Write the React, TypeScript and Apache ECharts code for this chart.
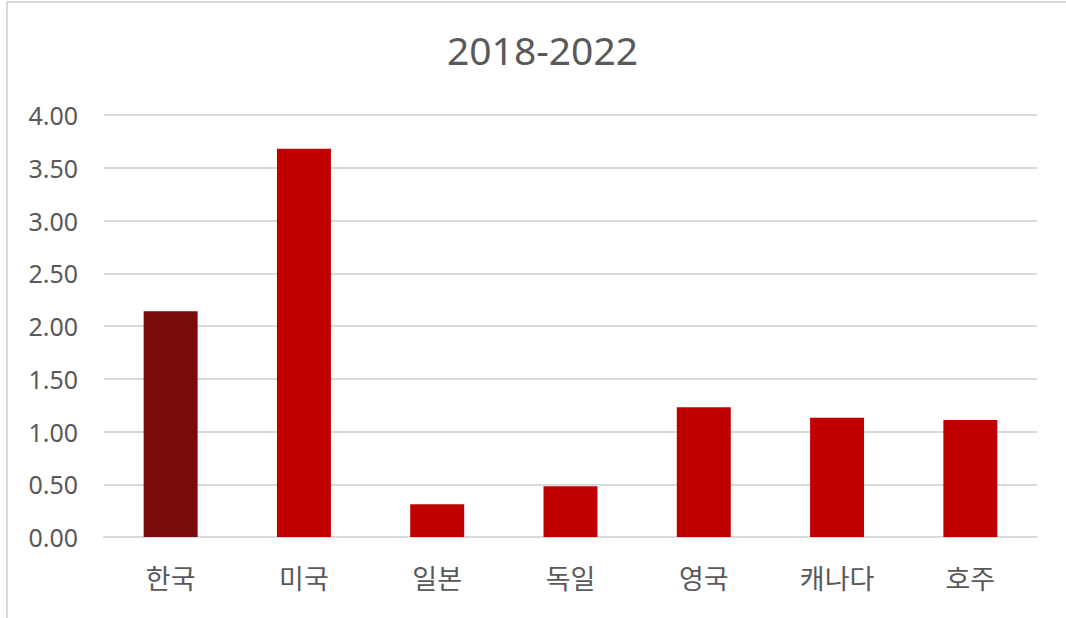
import React, { useEffect, useRef } from "react";
import * as echarts from "echarts";

const titleText = "2018-2022";
const categories = ["한국", "미국", "일본", "독일", "영국", "캐나다", "호주"];
const values = [2.14, 3.68, 0.31, 0.48, 1.23, 1.13, 1.11];
const highlightIndex = 0;
const highlightColor = "#7B0C0E";
const baseColor = "#C00000";

export default function App() {
  const ref = useRef<HTMLDivElement>(null);
  useEffect(() => {
    if (!ref.current) return;
    const chart = echarts.init(ref.current, undefined, { renderer: "svg" });
    const font = "'Noto Sans', 'Noto Sans CJK KR', sans-serif";
    chart.setOption({
      animation: false,
      backgroundColor: "#ffffff",
      textStyle: { fontFamily: font },
      title: {
        text: titleText,
        left: 442,
        top: 21,
        textStyle: {
          fontFamily: font,
          fontSize: 39,
          fontWeight: "normal",
          color: "#595959",
          lineHeight: 46,
        },
      },
      graphic: [
        {
          type: "rect",
          shape: { x: 7, y: 2, width: 1100, height: 700 },
          style: { fill: "none", stroke: "#d9d9d9", lineWidth: 2 },
          silent: true,
        },
      ],
      grid: { left: 104, right: 29, top: 115, bottom: 81 },
      xAxis: {
        type: "category",
        data: categories,
        axisLine: { show: true, lineStyle: { color: "#d9d9d9", width: 2 } },
        axisTick: { show: false },
        axisLabel: {
          color: "#595959",
          fontSize: 27,
          margin: 27,
          fontFamily: "'Noto Sans CJK KR', sans-serif",
        },
      },
      yAxis: {
        type: "value",
        min: 0,
        max: 4,
        interval: 0.5,
        axisLine: { show: false },
        axisTick: { show: false },
        splitLine: { lineStyle: { color: "#d9d9d9", width: 2 } },
        axisLabel: {
          color: "#595959",
          fontSize: 25,
          margin: 26,
          formatter: (v: number) => v.toFixed(2),
        },
      },
      series: [
        {
          type: "bar",
          barWidth: "40.5%",
          data: values.map((v, i) => ({
            value: v,
            itemStyle: { color: i === highlightIndex ? highlightColor : baseColor },
          })),
        },
      ],
    });
    return () => chart.dispose();
  }, []);
  return (
    <div
      ref={ref}
      style={{ position: "absolute", left: 0, top: 0, width: 1066, height: 618 }}
    />
  );
}
